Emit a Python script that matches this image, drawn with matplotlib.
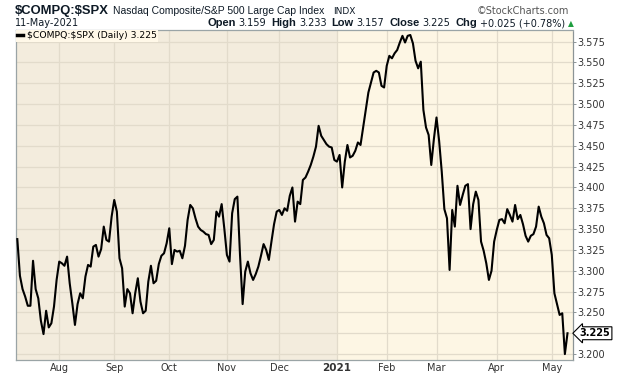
import matplotlib
matplotlib.use("Agg")
import matplotlib.pyplot as plt
import matplotlib.transforms as mtransforms
from matplotlib.lines import Line2D
import pandas as pd
import numpy as np

# ---------------- data ----------------
start_date = "2020-07-10"
end_date = "2021-05-11"
market_holidays = ["2020-09-07", "2020-11-26", "2020-12-25", "2021-01-01",
                   "2021-01-18", "2021-02-15", "2021-04-02"]

ratio = [
    3.338, 3.294, 3.278, 3.269, 3.258, 3.258, 3.312, 3.278, 3.267, 3.240,
    3.224, 3.252, 3.232, 3.237, 3.257, 3.289, 3.311, 3.309, 3.306, 3.317,
    3.285, 3.261, 3.235, 3.260, 3.273, 3.267, 3.293, 3.307, 3.305, 3.329,
    3.331, 3.317, 3.326, 3.353, 3.337, 3.335, 3.365, 3.385, 3.371, 3.315,
    3.303, 3.257, 3.278, 3.273, 3.249, 3.273, 3.291, 3.263, 3.249, 3.252,
    3.287, 3.306, 3.285, 3.288, 3.308, 3.318, 3.321, 3.333, 3.351, 3.308,
    3.325, 3.323, 3.324, 3.315, 3.330, 3.361, 3.379, 3.375, 3.363, 3.353,
    3.349, 3.347, 3.344, 3.343, 3.332, 3.337, 3.371, 3.365, 3.380, 3.351,
    3.319, 3.311, 3.369, 3.386, 3.389, 3.319, 3.260, 3.299, 3.311, 3.297,
    3.289, 3.296, 3.305, 3.318, 3.332, 3.325, 3.313, 3.335, 3.356, 3.371,
    3.373, 3.367, 3.375, 3.372, 3.390, 3.400, 3.359, 3.383, 3.380, 3.409,
    3.412, 3.419, 3.427, 3.437, 3.449, 3.474, 3.462, 3.457, 3.452, 3.449,
    3.448, 3.433, 3.431, 3.439, 3.400, 3.431, 3.451, 3.436, 3.438, 3.444,
    3.454, 3.451, 3.472, 3.493, 3.514, 3.526, 3.538, 3.540, 3.538, 3.522,
    3.520, 3.546, 3.558, 3.555, 3.561, 3.565, 3.574, 3.582, 3.574, 3.582,
    3.583, 3.573, 3.552, 3.543, 3.551, 3.493, 3.472, 3.463, 3.427, 3.458,
    3.484, 3.456, 3.419, 3.374, 3.363, 3.301, 3.373, 3.353, 3.402, 3.379,
    3.391, 3.402, 3.404, 3.350, 3.380, 3.395, 3.385, 3.335, 3.324, 3.309,
    3.289, 3.300, 3.335, 3.349, 3.361, 3.362, 3.357, 3.374, 3.367, 3.359,
    3.379, 3.362, 3.367, 3.356, 3.342, 3.335, 3.342, 3.344, 3.353, 3.377,
    3.365, 3.357, 3.343, 3.339, 3.319, 3.273, 3.260, 3.247, 3.249, 3.200,
    3.225,
]

ytick_values = [3.200, 3.225, 3.250, 3.275, 3.300, 3.325, 3.350, 3.375, 3.400,
                3.425, 3.450, 3.475, 3.500, 3.525, 3.550, 3.575]
month_labels = ["Aug", "Sep", "Oct", "Nov", "Dec", "2021", "Feb", "Mar", "Apr", "May"]
last_value = "3.225"
header_stats = [("Open", "3.159"), ("High", "3.233"), ("Low", "3.157"),
                ("Close", "3.225"), ("Chg", "+0.025 (+0.78%)")]

# ---------------- dates / positions ----------------
dates = pd.bdate_range(start_date, end_date, freq="C", holidays=market_holidays)
n = min(len(dates), len(ratio))
dates = dates[:n]
vals = np.array(ratio[:n])
idx = np.arange(n)

s = pd.Series(idx, index=dates)
month_first = s.groupby([dates.year, dates.month]).first().values[1:]  # skip July
month_first = month_first[:len(month_labels)]

# ---------------- figure ----------------
W, H = 620, 376
fig = plt.figure(figsize=(W / 100, H / 100), dpi=100)
fig.patch.set_facecolor("white")

L, R, T, B = 16, 573, 30, 360
ax = fig.add_axes([L / W, 1 - B / H, (R - L) / W, (B - T) / H])

xmin, xmax = -0.5, 212.1
ax.set_xlim(xmin, xmax)
ax.set_ylim(3.1929, 3.5890)

left_bg = "#F3ECDD"
right_bg = "#FDF6E4"
grid_c = "#E2DBCB"
ax.set_facecolor(right_bg)
jan_pos = month_first[month_labels.index("2021")]
ax.axvspan(xmin, jan_pos, color=left_bg, zorder=0, lw=0)

for yv in ytick_values:
    ax.axhline(yv, color=grid_c, lw=0.9, zorder=1)
for xv in month_first:
    ax.axvline(xv, color=grid_c, lw=0.9, zorder=1)

ax.plot(idx, vals, color="black", lw=1.5, zorder=3, solid_joinstyle="round")

# axes styling
for side in ["left", "bottom", "top"]:
    ax.spines[side].set_color("#9AA4A6")
    ax.spines[side].set_linewidth(0.9)
ax.spines["right"].set_color("#8C9496")
ax.spines["right"].set_linewidth(0.9)
ax.spines["right"].set_linestyle((0, (1, 1)))

ax.yaxis.tick_right()
ax.set_yticks(ytick_values)
ax.set_yticklabels(["" if f"{v:.3f}" == last_value else f"{v:.3f}" for v in ytick_values])
ax.tick_params(axis="y", which="both", length=2, width=0.7, color="#8C9496",
               labelsize=7, labelcolor="#333333", pad=1)

ax.set_xticks(month_first)
ax.set_xticklabels(month_labels)
ax.tick_params(axis="x", length=0, labelsize=7, labelcolor="#333333", pad=2.5)
for lab in ax.get_xticklabels():
    if lab.get_text() == "2021":
        lab.set_fontweight("bold")
        lab.set_fontsize(7.5)

# legend
handle = Line2D([0], [0], color="black", lw=2.5)
leg = ax.legend([handle], [r"\$COMPQ:\$SPX (Daily) " + last_value], loc="upper left",
                bbox_to_anchor=(0, 1), borderaxespad=0, borderpad=0.15,
                handlelength=0.6, handletextpad=0.4, fontsize=6.7,
                frameon=True, fancybox=False)
leg.get_frame().set_facecolor("#FFF8E8")
leg.get_frame().set_edgecolor("none")
leg.get_frame().set_alpha(1)
leg.set_zorder(5)

# last value tag
trans = mtransforms.blended_transform_factory(ax.transAxes, ax.transData)
ax.text(1.012, float(last_value), last_value, transform=trans, ha="left", va="center",
        fontsize=7, fontweight="bold", color="black", zorder=6, clip_on=False,
        bbox=dict(boxstyle="larrow,pad=0.15", fc="white", ec="black", lw=0.8))

# ---------------- header ----------------
def px(x, y):
    return x / W, 1 - y / H

fig.canvas.draw()
renderer = fig.canvas.get_renderer()


def fit_text(x, y, txt, target_w, size, **kw):
    t = fig.text(*px(x, y), txt, fontsize=size, va="baseline", **kw)
    w = t.get_window_extent(renderer).width
    if w > target_w:
        t.set_fontsize(size * target_w / w)
    return t


dark = "#0E1A26"
fit_text(15, 14, r"\$COMPQ:\$SPX", 94, 11.5, fontweight="bold",
         family=["Liberation Sans", "DejaVu Sans"], color=dark)
fit_text(113, 14, "Nasdaq Composite/S&P 500 Large Cap Index", 214, 7.8,
         family=["Liberation Sans", "DejaVu Sans"], color=dark)
fit_text(333, 14, "INDX", 25, 6.5, family="DejaVu Sans", color=dark)
fig.text(*px(569, 14), "\u00a9StockCharts.com", fontsize=7, family="DejaVu Sans",
         color="#555555", va="baseline", ha="right")
fig.text(*px(15, 26), "11-May-2021", fontsize=7, family="DejaVu Sans",
         color=dark, va="baseline")

xcur = 207
for lab, val in header_stats:
    t = fig.text(*px(xcur, 26), lab, fontsize=8, fontweight="bold",
                 family=["Liberation Sans", "DejaVu Sans"], color=dark,
                 va="baseline")
    xcur += t.get_window_extent(renderer).width + 3
    t2 = fig.text(*px(xcur, 26), val, fontsize=7, family="DejaVu Sans",
                  color=dark, va="baseline")
    xcur += t2.get_window_extent(renderer).width + 5
fig.text(*px(xcur - 3, 26), "\u25B2", fontsize=5.5, family="DejaVu Sans",
         color="#1E9E3E", va="baseline")

fig.savefig("out.png", dpi=100, facecolor="white")
